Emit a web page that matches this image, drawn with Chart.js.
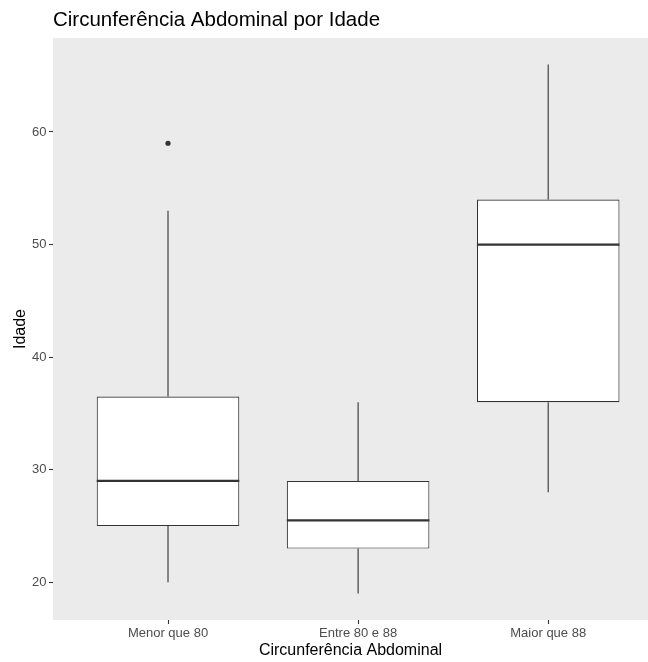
<!DOCTYPE html>
<html>
<head>
<meta charset="utf-8">
<script src="https://cdn.jsdelivr.net/npm/chart.js@4.4.0/dist/chart.umd.min.js"></script>
<style>
  html, body { margin: 0; padding: 0; background: #ffffff; }
  canvas { display: block; }
</style>
</head>
<body>
<canvas id="boxChart" width="648" height="662"></canvas>
<script>
// boxplot stats per group (Idade by Circunferência Abdominal)
const categories = ['Menor que 80', 'Entre 80 e 88', 'Maior que 88'];
const whiskerLow = [20, 19, 28];
const q1 = [25, 23, 36];
const median = [29, 25.5, 50];
const q3 = [36.5, 29, 54];
const whiskerHigh = [53, 36, 66];
const outlierGroup = [1];
const outlierAge = [59];
const yTicks = [20, 30, 40, 50, 60];
const xTicks = [1, 2, 3];

const INK = '#333333';

Chart.defaults.font.family = "'Liberation Sans', Arial, sans-serif";

// whiskers under the boxes, medians on top
const boxplotLines = {
    id: 'boxplotLines',
    beforeDatasetsDraw(chart) {
        const { ctx, chartArea, scales: { x, y } } = chart;
        ctx.save();
        ctx.beginPath();
        ctx.rect(chartArea.left, chartArea.top, chartArea.width, chartArea.height);
        ctx.clip();
        ctx.strokeStyle = INK;
        ctx.lineWidth = 1.1;
        categories.forEach((c, i) => {
            const px = x.getPixelForValue(i + 1);
            ctx.beginPath();
            ctx.moveTo(px, y.getPixelForValue(whiskerLow[i]));
            ctx.lineTo(px, y.getPixelForValue(q1[i]));
            ctx.moveTo(px, y.getPixelForValue(q3[i]));
            ctx.lineTo(px, y.getPixelForValue(whiskerHigh[i]));
            ctx.stroke();
        });
        ctx.restore();
    },
    afterDatasetsDraw(chart) {
        const { ctx, scales: { y } } = chart;
        const boxes = chart.getDatasetMeta(0).data;
        ctx.save();
        ctx.strokeStyle = INK;
        ctx.lineWidth = 2.2;
        boxes.forEach((bar, i) => {
            const py = y.getPixelForValue(median[i]);
            ctx.beginPath();
            ctx.moveTo(bar.x - bar.width / 2, py);
            ctx.lineTo(bar.x + bar.width / 2, py);
            ctx.stroke();
        });
        ctx.restore();
    }
};

// grey ggplot-like panel
const panelBg = {
    id: 'panelBg',
    beforeDraw(chart) {
        const { ctx, chartArea } = chart;
        ctx.save();
        ctx.fillStyle = '#EBEBEB';
        ctx.fillRect(chartArea.left, chartArea.top, chartArea.width, chartArea.height);
        ctx.restore();
    }
};

new Chart(document.getElementById('boxChart'), {
    type: 'bar',
    data: {
        datasets: [{
            type: 'bar',
            data: categories.map((c, i) => ({ x: i + 1, y: [q1[i], q3[i]] })),
            backgroundColor: '#FFFFFF',
            borderColor: INK,
            borderWidth: 1.1,
            borderSkipped: false,
            barPercentage: 1,
            categoryPercentage: 0.75
        }, {
            type: 'scatter',
            data: outlierGroup.map((g, i) => ({ x: g, y: outlierAge[i] })),
            pointRadius: 2.6,
            pointBackgroundColor: INK,
            pointBorderColor: INK,
            pointBorderWidth: 0
        }]
    },
    options: {
        responsive: false,
        animation: false,
        devicePixelRatio: 1,
        layout: { padding: 0, autoPadding: false },
        plugins: {
            legend: { display: false },
            tooltip: { enabled: false },
            title: {
                display: true,
                text: 'Circunferência Abdominal por Idade',
                align: 'start',
                fullSize: false,
                color: '#000000',
                font: { size: 20.5, weight: 'normal' },
                padding: { top: 8, bottom: 5.4 }
            }
        },
        scales: {
            x: {
                type: 'linear',
                position: 'bottom',
                offset: false,
                min: 0.395,
                max: 3.525,
                afterBuildTicks: s => { s.ticks = xTicks.map(v => ({ value: v })); },
                afterFit: s => { s.height = 42; s.paddingRight = 0; },
                ticks: {
                    callback: v => categories[v - 1],
                    color: '#4D4D4D',
                    font: { size: 13 },
                    padding: 2,
                    maxRotation: 0,
                    autoSkip: false
                },
                grid: {
                    offset: false,
                    drawOnChartArea: false,
                    drawTicks: true,
                    tickLength: 4,
                    tickColor: INK,
                    tickWidth: 1.1
                },
                border: { display: false },
                title: {
                    display: true,
                    text: 'Circunferência Abdominal',
                    color: '#000000',
                    font: { size: 16 },
                    padding: { top: 0, bottom: 2 }
                }
            },
            y: {
                type: 'linear',
                min: 16.65,
                max: 68.35,
                afterBuildTicks: s => { s.ticks = yTicks.map(v => ({ value: v })); },
                afterFit: s => { s.width = 53; },
                ticks: {
                    color: '#4D4D4D',
                    font: { size: 13 },
                    padding: 2.5
                },
                grid: {
                    drawOnChartArea: false,
                    drawTicks: true,
                    tickLength: 4,
                    tickColor: INK,
                    tickWidth: 1.1
                },
                border: { display: false },
                title: {
                    display: true,
                    text: 'Idade',
                    color: '#000000',
                    font: { size: 16 },
                    padding: { top: 11.4, bottom: 0 }
                }
            }
        }
    },
    plugins: [panelBg, boxplotLines]
});
</script>
</body>
</html>
